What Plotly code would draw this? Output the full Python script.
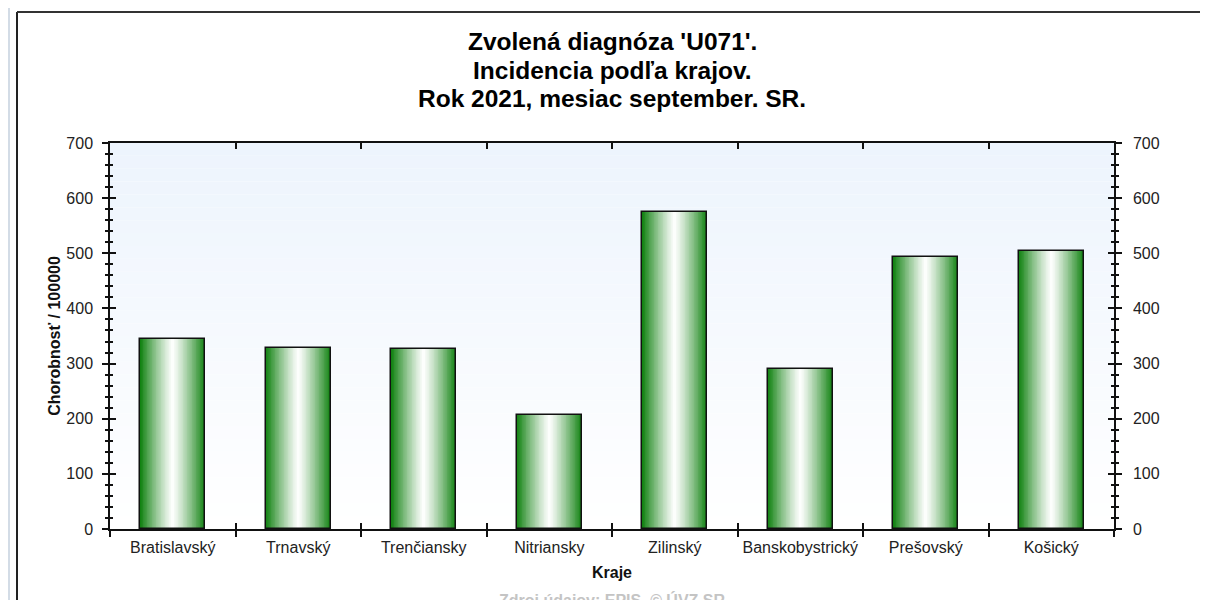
import plotly.graph_objects as go

# ---- data ----
regions = ["Bratislavský", "Trnavský", "Trenčiansky", "Nitriansky",
           "Zilinský", "Banskobystrický", "Prešovský", "Košický"]
incidence = [345, 328, 326, 207, 575, 290, 493, 504]

title_lines = ["Zvolená diagnóza 'U071'.", "Incidencia podľa krajov.",
               "Rok 2021, mesiac september. SR."]
y_title = "Chorobnosť / 100000"
x_title = "Kraje"
source_text = "Zdroj údajov: EPIS, © ÚVZ SR"

# page body has an 8px margin, so the figure is 1200x592 and offset by 8px
OFF = 8
FIG_W, FIG_H = 1208 - OFF, 600 - OFF
PX0, PW, PY0, PH = 110, 1004, 143, 386   # plot area in screenshot pixels


def px(x):
    return (x - PX0) / PW


def py(y):
    return (PY0 + PH - y) / PH


FONT = "Liberation Sans, Arial, sans-serif"
BAR_W = 0.52
EDGE = (18, 130, 18)
N = 40

fig = go.Figure()

# gradient bars built from overlaid bars of decreasing width
for k in range(N):
    d = 1 - k / N
    t = d ** 1.2
    r = round(255 * (1 - t) + EDGE[0] * t)
    g = round(255 * (1 - t) + EDGE[1] * t)
    b = round(255 * (1 - t) + EDGE[2] * t)
    fig.add_trace(go.Bar(
        x=regions, y=incidence, width=BAR_W * d,
        marker=dict(color=f"rgb({r},{g},{b})", line=dict(width=0)),
        showlegend=False, hoverinfo="skip" if k else "x+y",
    ))
# outline on top
fig.add_trace(go.Bar(
    x=regions, y=incidence, width=BAR_W,
    marker=dict(color="rgba(0,0,0,0)", line=dict(width=1.5, color="#111111")),
    showlegend=False, hoverinfo="skip",
))

# invisible traces to register the overlay axes
for xa, ya in [("x2", "y"), ("x3", "y"), ("x", "y2"), ("x", "y3"), ("x", "y4")]:
    fig.add_trace(go.Scatter(x=regions, y=incidence, xaxis=xa, yaxis=ya,
                             mode="none", showlegend=False, hoverinfo="skip"))

axis_common = dict(showline=True, linecolor="#111111", linewidth=1.5,
                   tickcolor="#111111", tickwidth=1.5, showgrid=False,
                   zeroline=False, automargin=False)
xcat = dict(type="category", categoryorder="array", categoryarray=regions,
            range=[-0.5, 7.5], tickson="boundaries")
yrng = dict(range=[0, 700], dtick=100, tick0=0)
minor_out = dict(dtick=20, ticks="outside", ticklen=3, tickcolor="#111111", tickwidth=1.5)
minor_in = dict(dtick=20, ticks="inside", ticklen=3, tickcolor="#111111", tickwidth=1.5)

fig.update_layout(
    width=FIG_W, height=FIG_H,
    margin=dict(l=PX0 - OFF, r=FIG_W - (PX0 - OFF) - PW, t=PY0 - OFF,
                b=FIG_H - (PY0 - OFF) - PH),
    paper_bgcolor="white", plot_bgcolor="white",
    barmode="overlay", bargap=0,
    font=dict(family=FONT, color="#222222"),
    xaxis=dict(**axis_common, **xcat, ticks="outside", ticklen=6, tickangle=0,
               ticklabelstandoff=3,
               tickfont=dict(size=16, color="#222222"),
               title=dict(text=f"<b>{x_title}</b>", font=dict(size=16, color="#111111"),
                          standoff=12)),
    xaxis2=dict(**axis_common, **xcat, overlaying="x", side="top", anchor="y",
                ticks="inside", ticklen=6, showticklabels=False),
    xaxis3=dict(**axis_common, **xcat, overlaying="x", side="bottom", anchor="y",
                ticks="inside", ticklen=6, showticklabels=False),
    yaxis=dict(**axis_common, **yrng, ticks="outside", ticklen=6, ticklabelstandoff=6,
               tickfont=dict(size=16, color="#222222"), minor=minor_out,
               title=dict(text=f"<b>{y_title}</b>", font=dict(size=16, color="#111111"),
                          standoff=2)),
    yaxis2=dict(**axis_common, **yrng, overlaying="y", side="right", anchor="x",
                ticks="outside", ticklen=6, ticklabelstandoff=8,
                tickfont=dict(size=16, color="#222222"), minor=minor_out),
    yaxis3=dict(**axis_common, **yrng, overlaying="y", side="left", anchor="x",
                ticks="inside", ticklen=6, showticklabels=False, minor=minor_in),
    yaxis4=dict(**axis_common, **yrng, overlaying="y", side="right", anchor="x",
                ticks="inside", ticklen=6, showticklabels=False, minor=minor_in),
)

# plot-area vertical gradient background (light blue at top -> white)
NB = 30
top_c, bot_c = (237, 244, 253), (255, 255, 255)
shapes = []
for i in range(NB):
    f = i / (NB - 1)
    c = tuple(round(top_c[j] * (1 - f) + bot_c[j] * f) for j in range(3))
    shapes.append(dict(type="rect", xref="x domain", yref="y domain",
                       x0=0, x1=1, y0=1 - (i + 1) / NB, y1=1 - i / NB,
                       fillcolor=f"rgb{c}", line=dict(width=0), layer="below"))
# outer frame
shapes.append(dict(type="line", xref="paper", yref="paper",
                   x0=px(8.5), x1=px(8.5), y0=py(0), y1=py(605),
                   line=dict(color="#d3dce6", width=3)))
shapes.append(dict(type="line", xref="paper", yref="paper",
                   x0=px(17), x1=px(17), y0=py(12), y1=py(605),
                   line=dict(color="#222222", width=2)))
shapes.append(dict(type="line", xref="paper", yref="paper",
                   x0=px(17), x1=px(1210), y0=py(12), y1=py(12),
                   line=dict(color="#333333", width=2)))
shapes.append(dict(type="line", xref="paper", yref="paper",
                   x0=px(1207), x1=px(1207), y0=py(12), y1=py(605),
                   line=dict(color="#888888", width=1.5)))
fig.update_layout(shapes=shapes)

annotations = []
for line, ypix in zip(title_lines, [42, 70, 98]):
    annotations.append(dict(text=f"<b>{line}</b>", xref="paper", yref="paper",
                            x=px(612), y=py(ypix), xanchor="center", yanchor="middle",
                            showarrow=False, font=dict(size=24.5, color="#000000", family=FONT)))
annotations.append(dict(text=f"<b>{source_text}</b>", xref="paper", yref="paper",
                        x=px(612), y=py(600), xanchor="center", yanchor="middle",
                        showarrow=False, font=dict(size=16, color="#c4c4c4", family=FONT)))
fig.update_layout(annotations=annotations)

fig.write_html("out.html")
